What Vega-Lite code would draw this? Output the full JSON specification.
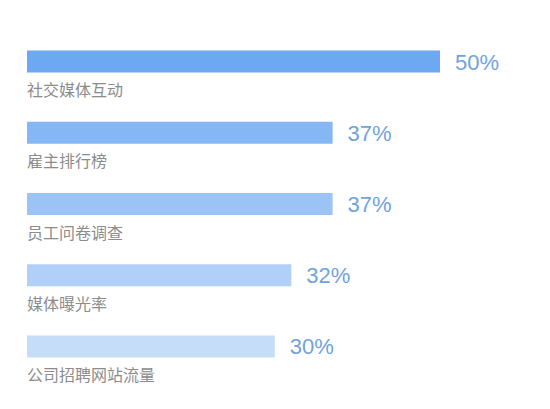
{
  "$schema": "https://vega.github.io/schema/vega-lite/v6.json",
  "width": 413,
  "height": 356,
  "padding": {"left": 27, "top": 26, "right": 110, "bottom": 27},
  "autosize": {"type": "none"},
  "background": "#ffffff",
  "config": {"view": {"stroke": null}},
  "data": {
    "values": [
      {"channel": "社交媒体互动", "share": 0.50},
      {"channel": "雇主排行榜", "share": 0.37},
      {"channel": "员工问卷调查", "share": 0.37},
      {"channel": "媒体曝光率", "share": 0.32},
      {"channel": "公司招聘网站流量", "share": 0.30}
    ]
  },
  "encoding": {
    "y": {
      "field": "channel",
      "type": "nominal",
      "sort": null,
      "axis": null,
      "scale": {"paddingInner": 0, "paddingOuter": 0}
    }
  },
  "layer": [
    {
      "mark": {"type": "bar", "height": 22},
      "encoding": {
        "x": {
          "field": "share",
          "type": "quantitative",
          "axis": null,
          "scale": {"domain": [0, 0.5], "nice": false, "zero": true}
        },
        "color": {
          "field": "channel",
          "type": "nominal",
          "legend": null,
          "scale": {
            "domain": ["社交媒体互动", "雇主排行榜", "员工问卷调查", "媒体曝光率", "公司招聘网站流量"],
            "range": ["#6da8f2", "#86b7f5", "#9bc3f6", "#b1d0f8", "#c6ddf9"]
          }
        }
      }
    },
    {
      "mark": {
        "type": "text",
        "align": "left",
        "baseline": "middle",
        "dx": 15,
        "dy": 1,
        "fontSize": 22,
        "font": "Liberation Sans",
        "color": "#6fa3dc"
      },
      "encoding": {
        "x": {"field": "share", "type": "quantitative"},
        "text": {"field": "share", "type": "quantitative", "format": ".0%"}
      }
    },
    {
      "mark": {
        "type": "text",
        "align": "left",
        "baseline": "middle",
        "dy": 29.5,
        "fontSize": 16,
        "font": "Noto Sans CJK SC",
        "color": "#8c8c8c"
      },
      "encoding": {
        "x": {"datum": 0, "type": "quantitative"},
        "text": {"field": "channel", "type": "nominal"}
      }
    }
  ]
}
